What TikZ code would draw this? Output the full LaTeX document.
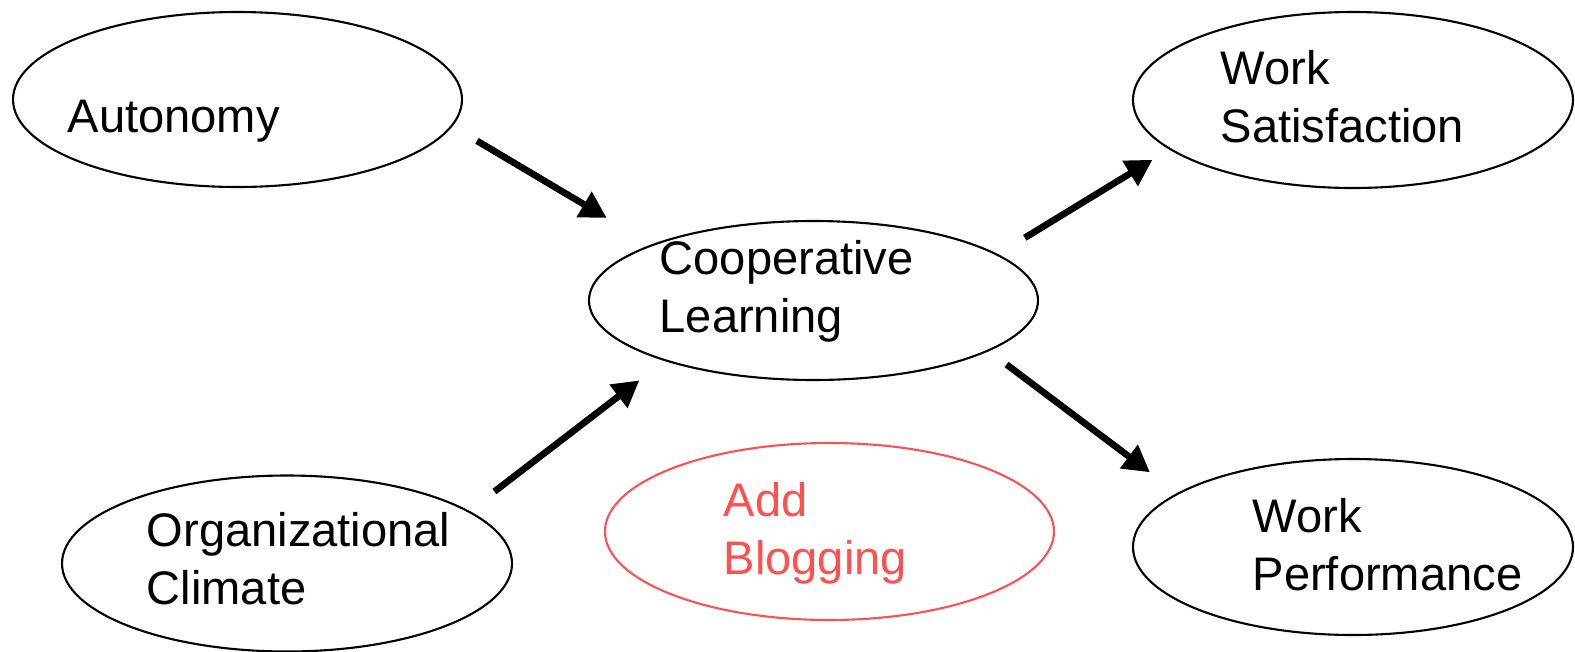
\documentclass[tikz,border=0pt]{standalone}
\usepackage{fontspec}
\setmainfont{Liberation Sans}
\usepackage{tikz}
\usetikzlibrary{positioning, shapes.geometric, arrows.meta}
\usepackage{xcolor}
\definecolor{xred}{HTML}{FF5050}
\tikzset{
	arrow/.style={line width=1.9pt, -{Triangle[length=7.5pt, width=8pt]}},
	bubble/.style={ellipse, draw, line width=0.6pt, inner sep=0pt, outer sep=0pt},
	label/.style={anchor=base west, inner sep=0pt, align=left, font=\fontsize{13.4}{16.4}\selectfont},
}

\begin{document}
\begin{tikzpicture}
			\useasboundingbox (0,0) rectangle (15.75,6.51);

			\node[bubble, minimum width=4.49cm, minimum height=1.75cm] (Aut) at (2.375,5.515) {};
			\node[label] (AutT) at (0.67,5.19) {Autonomy};

			\node[bubble, minimum width=4.49cm, minimum height=1.59cm] (Coop) at (8.135,3.505) {};
			\node[label] (CoopT) at (6.59,3.19) {Cooperative\\Learning};

			\node[bubble, draw=xred, minimum width=4.49cm, minimum height=1.77cm] (Blog) at (8.295,1.195) {};
			\node[label, text=xred] (BlogT) at (7.23,0.77) {Add\\Blogging};

			\node[bubble, minimum width=4.50cm, minimum height=1.76cm] (Org) at (2.87,0.875) {};
			\node[label] (OrgT) at (1.46,0.47) {Organizational\\Climate};

			\node[bubble, minimum width=4.40cm, minimum height=1.76cm] (Sat) at (13.53,5.51) {};
			\node[label] (SatT) at (12.20,5.09) {Work\\Satisfaction};

			\node[bubble, minimum width=4.40cm, minimum height=1.76cm] (Perf) at (13.53,1.04) {};
			\node[label] (PerfT) at (12.52,0.61) {Work\\Performance};

			\draw[arrow, shorten <=0.295cm, shorten >=0.533cm] (Aut.-7) -- (Coop.161.2);
			\draw[arrow, shorten <=0.328cm, shorten >=0.33cm] (Org.16) -- (Coop.-158.6);
			\draw[arrow, shorten <=0.325cm, shorten >=0.207cm] (Coop.14.7) -- (Sat.-165.9);
			\draw[arrow, shorten <=0.232cm, shorten >=0.354cm] (Coop.-16) -- (Perf.163.5);
		\end{tikzpicture}
\end{document}
